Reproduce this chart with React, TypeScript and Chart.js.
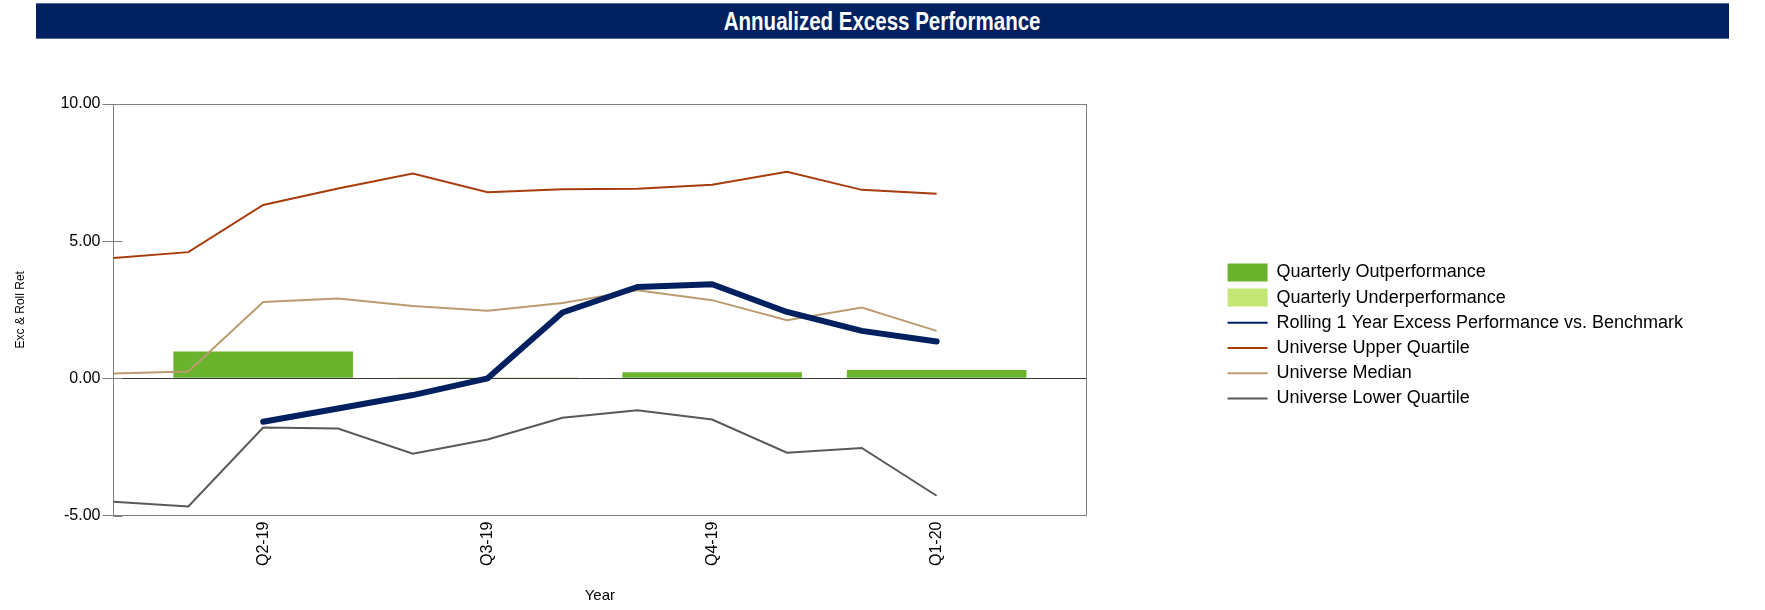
import React, { useEffect, useRef } from 'react';
import { Chart, registerables } from 'chart.js';

Chart.register(...registerables);

// ---------- data ----------
const months = ['Apr-19', 'May-19', 'Jun-19', 'Jul-19', 'Aug-19', 'Sep-19', 'Oct-19', 'Nov-19', 'Dec-19', 'Jan-20', 'Feb-20', 'Mar-20'];
const quarterMonths = ['Jun-19', 'Sep-19', 'Dec-19', 'Mar-20'];
const quarterLabels = ['Q2-19', 'Q3-19', 'Q4-19', 'Q1-20'];
const quarterlyOutperformance = [0.98, 0.03, 0.22, 0.3];
const quarterlyUnderperformance: (number | null)[] = [null, null, null, null];
const rolling1YearExcess = [null, null, -1.58, -1.1, -0.61, 0.0, 2.4, 3.33, 3.43, 2.42, 1.73, 1.34];
const universeUpperQuartile = [4.39, 4.6, 6.32, 6.92, 7.47, 6.78, 6.89, 6.91, 7.06, 7.53, 6.87, 6.73];
const universeMedian = [0.18, 0.25, 2.78, 2.91, 2.64, 2.46, 2.75, 3.21, 2.85, 2.12, 2.58, 1.73];
const universeLowerQuartile = [-4.5, -4.67, -1.79, -1.83, -2.75, -2.23, -1.44, -1.16, -1.5, -2.71, -2.54, -4.28];
const yTickValues = [-5, 0, 5, 10];

// ---------- styles ----------
const FONT = "'Liberation Sans', Arial, Helvetica, sans-serif";
const NAVY = '#002060';
const GREEN = '#6AB42D';
const LIGHT_GREEN = '#C3E675';
const UPPER = '#A83C0C';
const MEDIAN = '#BD9B70';
const LOWER = '#595959';
const FRAME = '#808080';

const lineData = (arr: (number | null)[]) => arr.map((v, i) => ({ x: i, y: v }));
const barData = (arr: (number | null)[]) =>
  arr.map((v, i) => ({ x: months.indexOf(quarterMonths[i]), y: v }));

const innerTicks = {
  id: 'innerTicks',
  afterDraw(chart: any) {
    const y = chart.scales.y;
    const area = chart.chartArea;
    const ctx = chart.ctx;
    ctx.save();
    ctx.strokeStyle = FRAME;
    ctx.lineWidth = 1;
    y.ticks.forEach((t: any) => {
      const py = Math.round(y.getPixelForValue(t.value)) + 0.5;
      ctx.beginPath();
      ctx.moveTo(area.left, py);
      ctx.lineTo(area.left + 9, py);
      ctx.stroke();
    });
    ctx.restore();
  },
};

export default function App() {
  const ref = useRef<HTMLCanvasElement | null>(null);

  useEffect(() => {
    if (!ref.current) return;
    const chart = new Chart(ref.current, {
      type: 'bar',
      data: {
        datasets: [
          {
            type: 'bar',
            label: 'Quarterly Outperformance',
            data: barData(quarterlyOutperformance),
            backgroundColor: GREEN,
            borderWidth: 0,
            grouped: false,
            categoryPercentage: 0.8,
            barPercentage: 1,
            order: 10,
          },
          {
            type: 'bar',
            label: 'Quarterly Underperformance',
            data: barData(quarterlyUnderperformance),
            backgroundColor: LIGHT_GREEN,
            borderWidth: 0,
            grouped: false,
            categoryPercentage: 0.8,
            barPercentage: 1,
            order: 11,
          },
          {
            type: 'line',
            label: 'Rolling 1 Year Excess Performance vs. Benchmark',
            data: lineData(rolling1YearExcess),
            borderColor: NAVY,
            backgroundColor: NAVY,
            borderWidth: 6,
            pointRadius: 0,
            tension: 0,
            borderCapStyle: 'round',
            borderJoinStyle: 'round',
            order: 0,
          },
          {
            type: 'line',
            label: 'Universe Upper Quartile',
            data: lineData(universeUpperQuartile),
            borderColor: UPPER,
            backgroundColor: UPPER,
            borderWidth: 2,
            pointRadius: 0,
            tension: 0,
            order: 1,
          },
          {
            type: 'line',
            label: 'Universe Median',
            data: lineData(universeMedian),
            borderColor: MEDIAN,
            backgroundColor: MEDIAN,
            borderWidth: 2,
            pointRadius: 0,
            tension: 0,
            order: 2,
          },
          {
            type: 'line',
            label: 'Universe Lower Quartile',
            data: lineData(universeLowerQuartile),
            borderColor: LOWER,
            backgroundColor: LOWER,
            borderWidth: 2,
            pointRadius: 0,
            tension: 0,
            order: 3,
          },
        ],
      } as any,
      options: {
        responsive: false,
        animation: false,
        devicePixelRatio: 1,
        layout: { padding: { top: 60.8, right: 71.9, bottom: 0, left: 0 } },
        plugins: {
          title: { display: false },
          tooltip: { enabled: false },
          legend: {
            display: true,
            position: 'right',
            align: 'center',
            maxWidth: 700,
            labels: {
              font: { family: FONT, size: 18 },
              color: '#000',
              usePointStyle: true,
              pointStyleWidth: 40,
              boxHeight: 18,
              padding: 7.2,
              generateLabels: (chart: any) =>
                chart.data.datasets.map((ds: any, i: number) => ({
                  text: ds.label,
                  datasetIndex: i,
                  hidden: false,
                  fontColor: '#000',
                  fillStyle: ds.type === 'bar' ? ds.backgroundColor : 'rgba(0,0,0,0)',
                  strokeStyle: ds.type === 'bar' ? ds.backgroundColor : ds.borderColor,
                  lineWidth: ds.type === 'bar' ? 0 : 2,
                  pointStyle: ds.type === 'bar' ? 'rect' : 'line',
                  rotation: 0,
                })),
            },
          },
        },
        scales: {
          x: {
            type: 'linear',
            position: 'bottom',
            min: 0,
            max: months.length + 1,
            offset: false,
            afterBuildTicks: (s: any) => {
              s.ticks = quarterMonths.map((m) => ({ value: months.indexOf(m) }));
            },
            afterFit: (s: any) => {
              s.height = 94.5;
            },
            ticks: {
              autoSkip: false,
              minRotation: 90,
              maxRotation: 90,
              padding: -2,
              color: '#000',
              font: { family: FONT, size: 16 },
              callback: (_v: any, i: number) => quarterLabels[i],
            },
            grid: { display: false, offset: false },
            border: { display: true, color: FRAME, width: 1 },
            title: {
              display: true,
              text: 'Year',
              color: '#000',
              font: { family: FONT, size: 15 },
              padding: { top: 0, bottom: 5.5 },
            },
          },
          x2: {
            type: 'linear',
            position: 'top',
            display: true,
            grid: { display: false },
            ticks: { display: false },
            border: { display: true, color: FRAME, width: 1 },
            afterFit: (s: any) => {
              s.height = 43.2;
            },
          },
          y: {
            type: 'linear',
            position: 'left',
            min: -5,
            max: 10,
            afterBuildTicks: (s: any) => {
              s.ticks = yTickValues.map((v) => ({ value: v }));
            },
            afterFit: (s: any) => {
              s.width = 113.5;
            },
            ticks: {
              padding: 2,
              color: '#000',
              font: { family: FONT, size: 16 },
              callback: (v: any) => Number(v).toFixed(2),
            },
            grid: {
              drawOnChartArea: true,
              drawTicks: true,
              tickLength: 11,
              tickColor: FRAME,
              lineWidth: 1,
              color: (c: any) => (c.tick && c.tick.value === 0 ? '#3a3a3a' : 'rgba(0,0,0,0)'),
            },
            border: { display: true, color: FRAME, width: 1 },
            title: {
              display: true,
              text: 'Exc & Roll Ret',
              color: '#000',
              font: { family: FONT, size: 12 },
              padding: { top: 13, bottom: 0 },
            },
          },
          y2: {
            type: 'linear',
            position: 'right',
            display: true,
            grid: { display: false },
            ticks: { display: false },
            border: { display: true, color: FRAME, width: 1 },
            afterFit: (s: any) => {
              s.width = 134.1;
            },
          },
        },
      } as any,
      plugins: [innerTicks],
    });
    return () => chart.destroy();
  }, []);

  return (
    <div style={{ position: 'absolute', left: 0, top: 0, width: 1765, height: 610, background: '#fff' }}>
      <canvas ref={ref} width={1765} height={610} style={{ position: 'absolute', left: 0, top: 0 }} />
      <div
        style={{
          position: 'absolute',
          left: 36,
          top: 3,
          width: 1693,
          height: 36,
          background: '#00205F',
          borderTop: '1px solid #5A6A98',
          borderBottom: '1px solid #5A6A98',
          boxSizing: 'border-box',
          color: '#fff',
          fontFamily: "'Liberation Sans', Arial, sans-serif",
          fontWeight: 'bold',
          fontSize: 25,
          lineHeight: '34px',
          textAlign: 'center',
        }}
      >
        <span style={{ display: 'inline-block', transform: 'scaleX(0.82)', transformOrigin: 'center' }}>
          Annualized Excess Performance
        </span>
      </div>
    </div>
  );
}
